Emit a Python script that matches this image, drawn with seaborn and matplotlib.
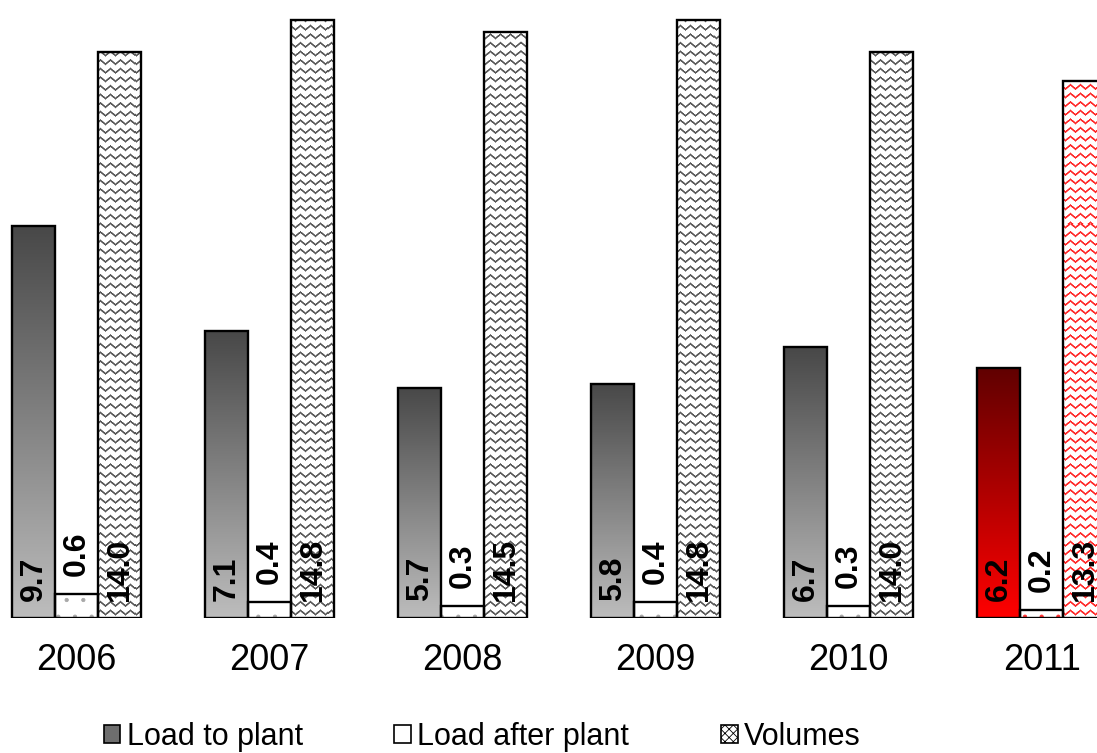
import numpy as np
import pandas as pd
import matplotlib
matplotlib.use("Agg")
import matplotlib.pyplot as plt
import seaborn as sns
from matplotlib.colors import LinearSegmentedColormap, to_rgb
from matplotlib.patches import Patch, Rectangle

years = ["2006", "2007", "2008", "2009", "2010", "2011"]
load_to_plant = [9.7, 7.1, 5.7, 5.8, 6.7, 6.2]
load_after_plant = [0.6, 0.4, 0.3, 0.4, 0.3, 0.2]
volumes = [14.0, 14.8, 14.5, 14.8, 14.0, 13.3]
series = ["Load to plant", "Load after plant", "Volumes"]

df = pd.DataFrame({
    "year": years * 3,
    "series": [series[0]] * 6 + [series[1]] * 6 + [series[2]] * 6,
    "value": load_to_plant + load_after_plant + volumes,
})

sns.set_style("white")
plt.rcParams["font.family"] = ["Liberation Sans", "DejaVu Sans"]
plt.rcParams["hatch.linewidth"] = 0.6
plt.rcParams["text.color"] = "black"
plt.rcParams["xtick.color"] = "black"

W, H = 1097, 753
fig = plt.figure(figsize=(W / 100, H / 100), dpi=100)
base_px = 618
ax = fig.add_axes([0, (H - base_px) / H, 1, base_px / H])

sns.barplot(data=df, x="year", y="value", hue="series", hue_order=series,
            width=0.67, palette=["#888888", "white", "white"], saturation=1,
            edgecolor="black", linewidth=1.7, legend=False, ax=ax)

px_per_unit = 40.4
xlim = (-76.7 / 193, (W - 76.7) / 193)
ylim = (0, base_px / px_per_unit)

# gradient for "Load to plant"
grey_cmap = LinearSegmentedColormap.from_list("g", ["#bdbdbd", "#484848"])
red_cmap = LinearSegmentedColormap.from_list("r", ["#ff0000", "#600000"])
grad = np.linspace(0, 1, 256).reshape(-1, 1)
for i, bar in enumerate(ax.containers[0]):
    x0, w, h = bar.get_x(), bar.get_width(), bar.get_height()
    bar.set_facecolor("none")
    bar.set_zorder(3)
    im = ax.imshow(grad, cmap=red_cmap if years[i] == "2011" else grey_cmap,
                   origin="lower", extent=(x0, x0 + w, 0, h), aspect="auto", zorder=2)
    im.set_clip_path(bar)

# sparse dots for "Load after plant"
for i, bar in enumerate(ax.containers[1]):
    dot_col = "#ff3030" if years[i] == "2011" else "#a8a8a8"
    ax.add_patch(Rectangle((bar.get_x(), 0), bar.get_width(), bar.get_height(),
                           facecolor="white", edgecolor=dot_col, linewidth=0,
                           hatch=".", zorder=2))
    bar.set_facecolor("none")
    bar.set_zorder(3)

# wavy texture for "Volumes"
rows, cols = np.mgrid[0:base_px, 0:W]
phase = cols / 10.0 % 1.0
tri = 4 * np.abs(phase - 0.5) - 1  # triangle wave -1..1
d = (rows + 2.0 * tri) % 8.6
inten = np.clip(1.6 - np.abs(d - 1.4) / 1.0, 0, 1)[..., None]
for i, bar in enumerate(ax.containers[2]):
    col = np.array(to_rgb("#ff2a2a" if years[i] == "2011" else "#5a5a5a"))
    tex = (1 - inten) * 1.0 + inten * col
    im = ax.imshow(tex, extent=(xlim[0], xlim[1], ylim[0], ylim[1]),
                   aspect="auto", interpolation="nearest", zorder=2)
    im.set_clip_path(bar)
    bar.set_facecolor("none")
    bar.set_zorder(3)

# value labels
for k, cont in enumerate(ax.containers):
    for bar in cont:
        v = bar.get_height()
        y = v if k == 1 else 0
        ax.annotate(f"{v:.1f}", (bar.get_x() + bar.get_width() / 2, y),
                    xytext=(0, 12 if k != 1 else 13), textcoords="offset points",
                    rotation=90, ha="center", va="bottom", fontsize=23,
                    fontweight="bold", color="black", zorder=4)

ax.set_xlim(*xlim)
ax.set_ylim(*ylim)
ax.set_xlabel("")
ax.set_ylabel("")
ax.set_yticks([])
ax.tick_params(axis="x", length=0, pad=18, labelsize=26, labelcolor="black")
sns.despine(ax=ax, left=True, bottom=True)

handles = [
    Patch(facecolor="#6e6e6e", edgecolor="black", linewidth=1.2),
    Patch(facecolor="white", edgecolor="black", linewidth=1.2),
    Patch(facecolor="white", edgecolor="black", linewidth=1.2, hatch="xxxx"),
]
fig.legend(handles, series, loc="center", bbox_to_anchor=(482 / W, 1 - 737 / H),
           ncol=3, frameon=False, fontsize=22, handlelength=0.55, handleheight=0.55,
           handletextpad=0.2, columnspacing=3.0)

fig.savefig("out.png", dpi=100)
